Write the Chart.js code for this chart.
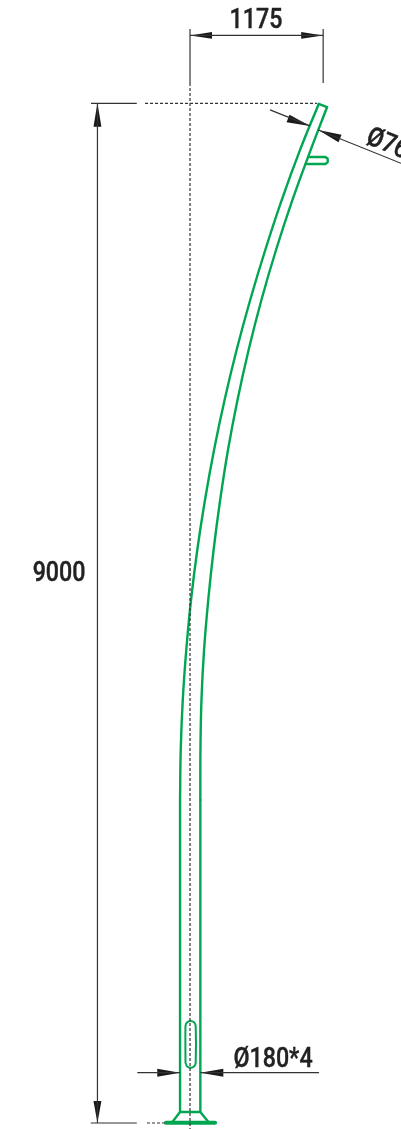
<!DOCTYPE html>
<html>
<head>
<meta charset="utf-8">
<title>Pole</title>
<style>
html, body { margin: 0; padding: 0; background: #fff; }
canvas { display: block; }
</style>
<script src="https://cdn.jsdelivr.net/npm/chart.js@4"></script>
</head>
<body>
<canvas id="chart" width="401" height="1129"></canvas>
<script>
// all values in mm, pole axis at x = 0, ground at y = 0
const shaftLeftX = [-88, -88];
const shaftRightX = [91, 91];
const shaftY = [97, 2850];
const bendY = [2850, 3291, 3733, 4174, 4615, 5056, 5497, 5939, 6380, 6821, 7262, 7703, 8145, 8586];
const bendLeftX = [-88, -82, -64, -33, 9, 64, 132, 212, 305, 411, 531, 664, 810, 971];
const bendRightX = [91, 92, 101, 124, 161, 208, 266, 335, 419, 517, 630, 759, 904, 1065];
const tipLeft = [1136, 8992];
const tipRight = [1209, 8963];
const capX = [1136, 1209];
const capY = [8992, 8963];
const bracketX = [1021, 1195, 1215, 1215, 1195, 1044];
const bracketY = [8462, 8462, 8478, 8508, 8524, 8524];
const slotX = [-40, -40, -27, 5, 37, 50, 50, 37, 5, -27, -40];
const slotY = [533, 855, 887, 900, 887, 855, 533, 501, 488, 501, 533];
const flangeX = [-161, -88, 91, 168];
const flangeY = [3, 97, 97, 3];
const plateX = [-212, 221];
const plateY = [3, 3];

const axisX = [0, 0];
const axisY = [9177, -53];
const topDotX = [-397, 1120];
const topDotY = [8997, 8997];
const bottomDotX = [-380, -212];
const bottomDotY = [0, 0];

const thinLines = [
    [[0, 0], [9177, 9653]],
    [[1175, 1175], [9177, 9653]],
    [[0, 1175], [9596, 9596]],
    [[-874, -470], [8997, 8997]],
    [[-876, -470], [0, 0]],
    [[-817, -817], [0, 9000]],
    [[-465, -88], [444, 444]],
    [[91, 1138], [444, 444]],
    [[706, 1059], [8939, 8798]],
    [[1132, 1862], [8762, 8468]]
];

const arrowHeads = [
    [[0, 194, 194, 0], [9596, 9626, 9566, 9596]],
    [[1175, 981, 981, 1175], [9596, 9626, 9566, 9596]],
    [[-817, -852, -782, -817], [9000, 8790, 8790, 9000]],
    [[-817, -852, -782, -817], [0, 194, 194, 0]],
    [[-88, -289, -289, -88], [444, 479, 409, 444]],
    [[91, 294, 294, 91], [444, 479, 409, 444]],
    [[1059, 852, 878, 1059], [8798, 8831, 8896, 8798]],
    [[1132, 1311, 1337, 1132], [8762, 8654, 8719, 8762]]
];

const dimLabels = ['1175', '9000', 'Ø180*4', 'Ø76'];
const dimLabelX = [582, -1156, 733, 1565];
const dimLabelY = [9724, 4844, 556, 8702];
const dimLabelAngle = [0, 0, 0, 22];
const dimLabelAlign = ['center', 'center', 'center', 'left'];

const GREEN = '#00a651';
const DARK = '#333';

const toPoints = (xs, ys) => xs.map((x, i) => ({ x: x, y: ys[i] }));

const greenLine = (pts, width, tension) => ({
    data: pts,
    borderColor: GREEN,
    borderWidth: width,
    borderCapStyle: 'round',
    borderJoinStyle: 'round',
    tension: tension,
    pointRadius: 0,
    fill: false
});

const datasets = [];

thinLines.forEach(l => {
    datasets.push({ data: toPoints(l[0], l[1]), borderColor: DARK, borderWidth: 1.2, pointRadius: 0, fill: false });
});
[[axisX, axisY], [topDotX, topDotY], [bottomDotX, bottomDotY]].forEach(l => {
    datasets.push({ data: toPoints(l[0], l[1]), borderColor: DARK, borderWidth: 1.2, borderDash: [3, 2], pointRadius: 0, fill: false });
});
arrowHeads.forEach(a => {
    datasets.push({ data: toPoints(a[0], a[1]), borderColor: '#1a1a1a', borderWidth: 0, backgroundColor: '#1a1a1a', pointRadius: 0, fill: 'shape' });
});

datasets.push(greenLine(toPoints(shaftLeftX, shaftY), 2.4, 0));
datasets.push(greenLine(toPoints(shaftRightX, shaftY), 2.4, 0));
datasets.push(greenLine(toPoints(bendLeftX, bendY).concat([{ x: tipLeft[0], y: tipLeft[1] }]), 2.4, 0.4));
datasets.push(greenLine(toPoints(bendRightX, bendY).concat([{ x: tipRight[0], y: tipRight[1] }]), 2.4, 0.4));
datasets.push(greenLine(toPoints(capX, capY), 2.4, 0));
datasets.push(greenLine(toPoints(bracketX, bracketY), 2.4, 0));
datasets.push(greenLine(toPoints(slotX, slotY), 2, 0.2));
datasets.push(greenLine(toPoints(flangeX, flangeY), 2.4, 0));
datasets.push(greenLine(toPoints(plateX, plateY), 4, 0));

// dimension texts, placed through the scales
const dimTextPlugin = {
    id: 'dimText',
    afterDatasetsDraw(chart) {
        const { ctx, scales } = chart;
        ctx.save();
        ctx.fillStyle = '#222';
        ctx.strokeStyle = '#222';
        ctx.lineWidth = 0.4;
        ctx.font = '500 27px Roboto, "Liberation Sans", sans-serif';
        ctx.textBaseline = 'middle';
        dimLabels.forEach((label, i) => {
            ctx.save();
            ctx.translate(scales.x.getPixelForValue(dimLabelX[i]), scales.y.getPixelForValue(dimLabelY[i]));
            ctx.rotate(dimLabelAngle[i] * Math.PI / 180);
            ctx.scale(0.86, 1);
            ctx.textAlign = dimLabelAlign[i];
            ctx.fillText(label, 0, 0);
            ctx.strokeText(label, 0, 0);
            ctx.restore();
        });
        ctx.restore();
    }
};

new Chart(document.getElementById('chart'), {
    type: 'scatter',
    data: { datasets: datasets },
    options: {
        responsive: false,
        animation: false,
        showLine: true,
        layout: { padding: 0 },
        plugins: { legend: { display: false }, tooltip: { enabled: false } },
        scales: {
            x: { type: 'linear', display: false, min: -1677, max: 1862 },
            y: { type: 'linear', display: false, min: -53, max: 9909 }
        }
    },
    plugins: [dimTextPlugin]
});
</script>
</body>
</html>
